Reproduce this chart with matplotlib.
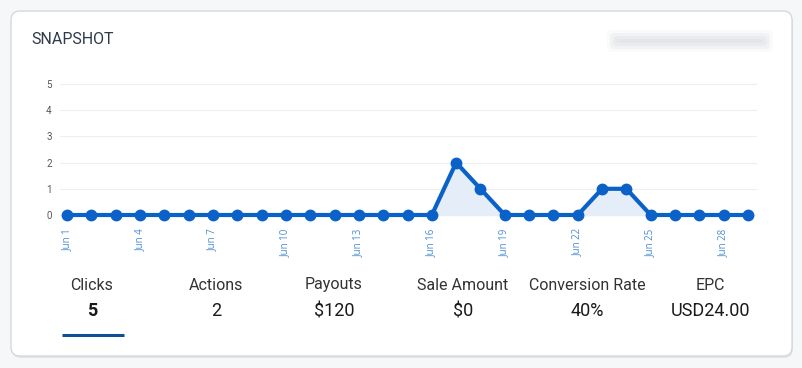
import numpy as np
import matplotlib.pyplot as plt
from matplotlib.patches import FancyBboxPatch

plt.rcParams['font.family'] = ['Roboto', 'DejaVu Sans']

days = list(range(1, 30))
clicks = [0] * 16 + [2, 1] + [0] * 4 + [1, 1] + [0] * 5
tick_days = [1, 4, 7, 10, 13, 16, 19, 22, 25, 28]
tick_labels = ['Jun %d' % d for d in tick_days]

stat_names = ['Clicks', 'Actions', 'Payouts', 'Sale Amount', 'Conversion Rate', 'EPC']
stat_values = ['5', '2', '$120', '$0', '40%', 'USD24.00']
stat_x = [92, 216, 334, 463, 587, 710]

W, H = 802, 368
fig = plt.figure(figsize=(W / 100, H / 100), dpi=100)
fig.patch.set_facecolor('#f6f7f9')

# background layer in pixel coordinates
bg = fig.add_axes([0, 0, 1, 1])
bg.set_xlim(0, W)
bg.set_ylim(H, 0)
bg.axis('off')

# card shadow + card
bg.add_patch(FancyBboxPatch((12, 13), 781, 345, boxstyle='round,pad=0,rounding_size=9',
                            fc='#d9dce1', ec='none', alpha=0.7))
bg.add_patch(FancyBboxPatch((11, 11), 781, 345, boxstyle='round,pad=0,rounding_size=9',
                            fc='white', ec='#d2d5da', lw=0.9))

bg.text(31, 40, 'SNAPSHOT', fontsize=11.5, color='#2f3a4a', va='center', ha='left')

# blurred placeholder at top right
for pad, a in [(7, 0.15), (4, 0.25), (1, 0.35), (-2, 0.45)]:
    bg.add_patch(FancyBboxPatch((614 - pad, 37 - pad), 152 + 2 * pad, 8 + 2 * pad,
                                boxstyle='round,pad=0,rounding_size=5',
                                fc='#dcdee3', ec='none', alpha=a))

# stats row
for i, (name, val, x) in enumerate(zip(stat_names, stat_values, stat_x)):
    bg.text(x, 285, name, fontsize=11.5, color='#333333', ha='center', va='center')
    bg.text(x, 311, val, fontsize=13, color='#1a1a1a', ha='center', va='center',
            fontweight='bold' if i == 0 else 'normal')
bg.plot([62, 124], [334.5, 334.5], color='#0d4f94', lw=2.2, solid_capstyle='butt')

# chart
ax_l, ax_r, ax_t, ax_b = 60, 757, 80, 220
ax = fig.add_axes([ax_l / W, 1 - ax_b / H, (ax_r - ax_l) / W, (ax_b - ax_t) / H])
ax.set_facecolor('none')
step = (748 - 67) / 28
ax.set_xlim(1 - (67 - ax_l) / step, 29 + (ax_r - 748) / step)
ypx = 26.2
ax.set_ylim(0 - (ax_b - 215) / ypx, 5 + (84 - ax_t) / ypx)

for s in ax.spines.values():
    s.set_visible(False)
ax.set_yticks(range(0, 6))
ax.yaxis.grid(True, color='#eeeeee', lw=0.8)
ax.set_axisbelow(True)
ax.tick_params(axis='y', length=0, labelsize=7, labelcolor='#555555', pad=6)
ax.set_xticks(tick_days)
ax.set_xticklabels(tick_labels, rotation=90, fontsize=7, color='#4a8fd0',
                   family=['Open Sans', 'DejaVu Sans'])
ax.tick_params(axis='x', length=0, pad=6)

ax.fill_between(days, clicks, 0, color='#e4edf8', zorder=1)
ax.plot(days, clicks, color='#0a62c9', lw=3, marker='o', ms=7.5, mfc='#0a62c9',
        mec='#0a62c9', zorder=3, clip_on=False)

fig.savefig('out.png', dpi=100, facecolor=fig.get_facecolor())
